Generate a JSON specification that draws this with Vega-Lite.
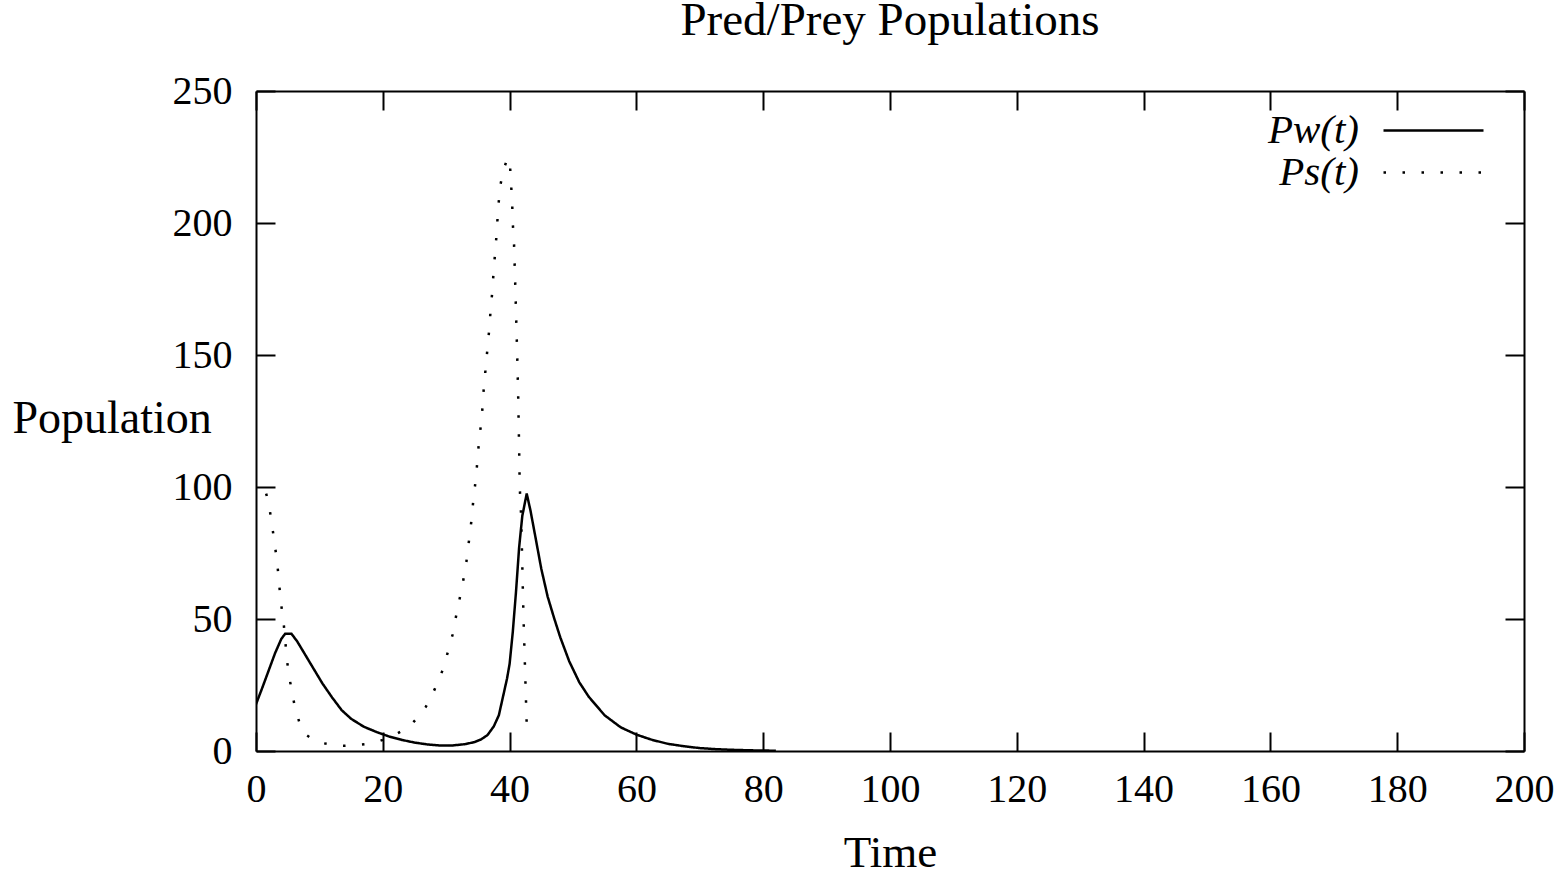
{
  "$schema": "https://vega.github.io/schema/vega-lite/v6.json",
  "width": 1268,
  "height": 660,
  "autosize": "none",
  "padding": {"left": 256, "top": 91, "right": 44, "bottom": 124},
  "background": "white",
  "config": {
    "view": {"stroke": null},
    "font": "Liberation Serif",
    "axis": {"grid": false, "domainColor": "black", "domainWidth": 2, "tickColor": "black", "tickWidth": 2, "labelColor": "black", "titleColor": "black", "labelFont": "Liberation Serif", "titleFont": "Liberation Serif", "titleFontWeight": "normal"}
  },
  "title": {"text": "Pred/Prey Populations", "font": "Liberation Serif", "fontSize": 47, "fontWeight": "normal", "color": "black", "anchor": "middle", "frame": "group", "baseline": "alphabetic", "offset": -11},
  "data": {"values": [
    {"t": 0, "pop": 17.7, "s": "Pw(t)"},
    {"t": 1, "pop": 24, "s": "Pw(t)"},
    {"t": 2, "pop": 30.5, "s": "Pw(t)"},
    {"t": 3, "pop": 37, "s": "Pw(t)"},
    {"t": 4, "pop": 42.5, "s": "Pw(t)"},
    {"t": 4.6, "pop": 44.4, "s": "Pw(t)"},
    {"t": 5.6, "pop": 44.4, "s": "Pw(t)"},
    {"t": 6.5, "pop": 41.5, "s": "Pw(t)"},
    {"t": 7.5, "pop": 37.5, "s": "Pw(t)"},
    {"t": 9, "pop": 31.5, "s": "Pw(t)"},
    {"t": 10.5, "pop": 25.5, "s": "Pw(t)"},
    {"t": 12, "pop": 20.3, "s": "Pw(t)"},
    {"t": 13.5, "pop": 15.5, "s": "Pw(t)"},
    {"t": 15, "pop": 12.2, "s": "Pw(t)"},
    {"t": 17, "pop": 9.2, "s": "Pw(t)"},
    {"t": 19, "pop": 7.2, "s": "Pw(t)"},
    {"t": 21, "pop": 5.5, "s": "Pw(t)"},
    {"t": 23, "pop": 4.2, "s": "Pw(t)"},
    {"t": 25, "pop": 3.2, "s": "Pw(t)"},
    {"t": 27, "pop": 2.5, "s": "Pw(t)"},
    {"t": 29, "pop": 2.1, "s": "Pw(t)"},
    {"t": 31, "pop": 2.1, "s": "Pw(t)"},
    {"t": 33, "pop": 2.6, "s": "Pw(t)"},
    {"t": 34.5, "pop": 3.4, "s": "Pw(t)"},
    {"t": 35.5, "pop": 4.4, "s": "Pw(t)"},
    {"t": 36.5, "pop": 6.0, "s": "Pw(t)"},
    {"t": 37.5, "pop": 9.3, "s": "Pw(t)"},
    {"t": 38.3, "pop": 13.5, "s": "Pw(t)"},
    {"t": 39, "pop": 21, "s": "Pw(t)"},
    {"t": 39.6, "pop": 27.5, "s": "Pw(t)"},
    {"t": 40, "pop": 33, "s": "Pw(t)"},
    {"t": 40.5, "pop": 45, "s": "Pw(t)"},
    {"t": 41, "pop": 60, "s": "Pw(t)"},
    {"t": 41.5, "pop": 77, "s": "Pw(t)"},
    {"t": 42, "pop": 89, "s": "Pw(t)"},
    {"t": 42.7, "pop": 97.5, "s": "Pw(t)"},
    {"t": 43.3, "pop": 91, "s": "Pw(t)"},
    {"t": 44, "pop": 82, "s": "Pw(t)"},
    {"t": 45, "pop": 69, "s": "Pw(t)"},
    {"t": 46, "pop": 58.5, "s": "Pw(t)"},
    {"t": 47, "pop": 50.5, "s": "Pw(t)"},
    {"t": 48, "pop": 43, "s": "Pw(t)"},
    {"t": 49.4, "pop": 34, "s": "Pw(t)"},
    {"t": 51, "pop": 26, "s": "Pw(t)"},
    {"t": 52.5, "pop": 20.5, "s": "Pw(t)"},
    {"t": 55, "pop": 13.5, "s": "Pw(t)"},
    {"t": 57.5, "pop": 9, "s": "Pw(t)"},
    {"t": 60, "pop": 6.2, "s": "Pw(t)"},
    {"t": 62.5, "pop": 4.2, "s": "Pw(t)"},
    {"t": 65, "pop": 2.7, "s": "Pw(t)"},
    {"t": 67.5, "pop": 1.8, "s": "Pw(t)"},
    {"t": 70, "pop": 1.1, "s": "Pw(t)"},
    {"t": 72.5, "pop": 0.7, "s": "Pw(t)"},
    {"t": 75, "pop": 0.45, "s": "Pw(t)"},
    {"t": 78, "pop": 0.25, "s": "Pw(t)"},
    {"t": 82, "pop": 0.1, "s": "Pw(t)"},
    {"t": 1.6, "pop": 97.5, "s": "Ps(t)"},
    {"t": 2, "pop": 94, "s": "Ps(t)"},
    {"t": 2.5, "pop": 86, "s": "Ps(t)"},
    {"t": 3, "pop": 77.6, "s": "Ps(t)"},
    {"t": 3.4, "pop": 70, "s": "Ps(t)"},
    {"t": 3.7, "pop": 62, "s": "Ps(t)"},
    {"t": 4, "pop": 55, "s": "Ps(t)"},
    {"t": 4.4, "pop": 47.5, "s": "Ps(t)"},
    {"t": 4.9, "pop": 34, "s": "Ps(t)"},
    {"t": 5.4, "pop": 26, "s": "Ps(t)"},
    {"t": 6.1, "pop": 17, "s": "Ps(t)"},
    {"t": 7, "pop": 9.5, "s": "Ps(t)"},
    {"t": 8, "pop": 6, "s": "Ps(t)"},
    {"t": 9.2, "pop": 4, "s": "Ps(t)"},
    {"t": 10.5, "pop": 3, "s": "Ps(t)"},
    {"t": 12.4, "pop": 2.2, "s": "Ps(t)"},
    {"t": 14, "pop": 2.0, "s": "Ps(t)"},
    {"t": 15.7, "pop": 2.2, "s": "Ps(t)"},
    {"t": 17.5, "pop": 2.7, "s": "Ps(t)"},
    {"t": 19, "pop": 3.4, "s": "Ps(t)"},
    {"t": 20.5, "pop": 4.6, "s": "Ps(t)"},
    {"t": 22, "pop": 6.2, "s": "Ps(t)"},
    {"t": 23.5, "pop": 8.3, "s": "Ps(t)"},
    {"t": 24.7, "pop": 10.6, "s": "Ps(t)"},
    {"t": 25.8, "pop": 13.5, "s": "Ps(t)"},
    {"t": 26.8, "pop": 16.8, "s": "Ps(t)"},
    {"t": 27.6, "pop": 20.3, "s": "Ps(t)"},
    {"t": 28.3, "pop": 24, "s": "Ps(t)"},
    {"t": 29, "pop": 28, "s": "Ps(t)"},
    {"t": 29.5, "pop": 31, "s": "Ps(t)"},
    {"t": 30.4, "pop": 38.7, "s": "Ps(t)"},
    {"t": 31, "pop": 44, "s": "Ps(t)"},
    {"t": 31.6, "pop": 51.6, "s": "Ps(t)"},
    {"t": 32.5, "pop": 62.2, "s": "Ps(t)"},
    {"t": 33.1, "pop": 70, "s": "Ps(t)"},
    {"t": 33.5, "pop": 77.8, "s": "Ps(t)"},
    {"t": 34, "pop": 87.7, "s": "Ps(t)"},
    {"t": 34.3, "pop": 95.6, "s": "Ps(t)"},
    {"t": 34.7, "pop": 103.6, "s": "Ps(t)"},
    {"t": 35.2, "pop": 118, "s": "Ps(t)"},
    {"t": 35.6, "pop": 126, "s": "Ps(t)"},
    {"t": 35.9, "pop": 136.5, "s": "Ps(t)"},
    {"t": 36.2, "pop": 144.4, "s": "Ps(t)"},
    {"t": 36.5, "pop": 152.3, "s": "Ps(t)"},
    {"t": 36.8, "pop": 160, "s": "Ps(t)"},
    {"t": 37, "pop": 167, "s": "Ps(t)"},
    {"t": 37.3, "pop": 174.8, "s": "Ps(t)"},
    {"t": 37.5, "pop": 182.7, "s": "Ps(t)"},
    {"t": 37.8, "pop": 190.8, "s": "Ps(t)"},
    {"t": 38, "pop": 198, "s": "Ps(t)"},
    {"t": 38.2, "pop": 205.6, "s": "Ps(t)"},
    {"t": 38.5, "pop": 213.7, "s": "Ps(t)"},
    {"t": 39, "pop": 220, "s": "Ps(t)"},
    {"t": 39.6, "pop": 224, "s": "Ps(t)"},
    {"t": 40, "pop": 224.5, "s": "Ps(t)"},
    {"t": 40.2, "pop": 216, "s": "Ps(t)"},
    {"t": 40.4, "pop": 208, "s": "Ps(t)"},
    {"t": 40.5, "pop": 200, "s": "Ps(t)"},
    {"t": 40.7, "pop": 192, "s": "Ps(t)"},
    {"t": 40.8, "pop": 184, "s": "Ps(t)"},
    {"t": 40.9, "pop": 176, "s": "Ps(t)"},
    {"t": 41.05, "pop": 163, "s": "Ps(t)"},
    {"t": 41.2, "pop": 150, "s": "Ps(t)"},
    {"t": 41.35, "pop": 135, "s": "Ps(t)"},
    {"t": 41.5, "pop": 115, "s": "Ps(t)"},
    {"t": 41.6, "pop": 100, "s": "Ps(t)"},
    {"t": 41.8, "pop": 90, "s": "Ps(t)"},
    {"t": 41.95, "pop": 76, "s": "Ps(t)"},
    {"t": 42.1, "pop": 60, "s": "Ps(t)"},
    {"t": 42.2, "pop": 50, "s": "Ps(t)"},
    {"t": 42.35, "pop": 38, "s": "Ps(t)"},
    {"t": 42.5, "pop": 26, "s": "Ps(t)"},
    {"t": 42.6, "pop": 18, "s": "Ps(t)"},
    {"t": 42.7, "pop": 10, "s": "Ps(t)"}
  ]},
  "resolve": {"axis": {"x": "independent", "y": "independent"}},
  "layer": [
    {
      "mark": {"type": "line", "color": "black", "strokeWidth": 2.5, "strokeCap": "butt", "clip": true},
      "encoding": {
        "x": {"field": "t", "type": "quantitative", "scale": {"domain": [0, 200], "nice": false},
          "axis": {"orient": "bottom", "values": [0,20,40,60,80,100,120,140,160,180,200], "tickSize": -19, "labelPadding": 37, "labelFontSize": 40, "labelDx": 5, "labelFlush": false, "title": "Time", "titleFontSize": 45, "titleBaseline": "alphabetic", "titleX": 634, "titleY": 115, "titleAnchor": null}},
        "y": {"field": "pop", "type": "quantitative", "scale": {"domain": [0, 250], "nice": false, "zero": false},
          "axis": {"orient": "left", "values": [0,50,100,150,200,250], "tickSize": -19, "labelPadding": 43, "labelFontSize": 40, "labelFlush": false, "title": "Population", "titleFontSize": 46, "titleAngle": 0, "titleAlign": "left", "titleBaseline": "alphabetic", "titleX": -244, "titleY": 341}},
        "strokeDash": {"field": "s", "type": "nominal",
          "scale": {"domain": ["Pw(t)", "Ps(t)"], "range": [[1, 0], [2.5, 16.5]]},
          "legend": {"title": null, "orient": "none", "legendX": 1157, "legendY": 19, "padding": 0, "symbolType": "M-5,0L5,0", "symbolSize": 400, "symbolStrokeWidth": 2.5, "symbolStrokeColor": "black", "symbolFillColor": "transparent", "labelFontSize": 41, "labelFontStyle": "italic", "labelFont": "Liberation Serif", "labelColor": "black", "labelAlign": "right", "labelOffset": -95, "rowPadding": 0}}
      }
    },
    {
      "mark": {"type": "line", "strokeOpacity": 0},
      "encoding": {
        "x": {"field": "t", "type": "quantitative",
          "axis": {"orient": "top", "values": [0,20,40,60,80,100,120,140,160,180,200], "tickSize": -19, "labels": false, "title": null}},
        "y": {"field": "pop", "type": "quantitative",
          "axis": {"orient": "right", "values": [0,50,100,150,200,250], "tickSize": -19, "labels": false, "title": null}},
        "detail": {"field": "s"}
      }
    }
  ]
}
